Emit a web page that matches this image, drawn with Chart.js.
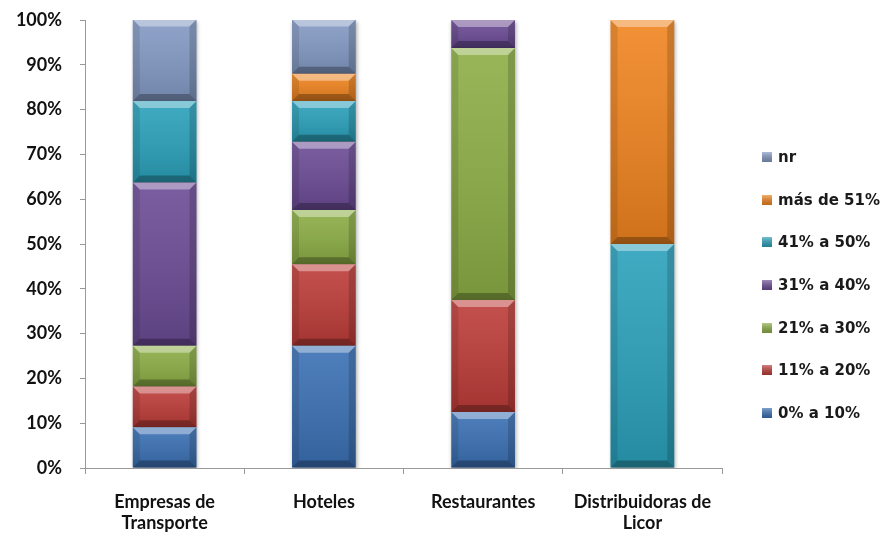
<!DOCTYPE html>
<html>
<head>
<meta charset="utf-8">
<script src="https://cdn.jsdelivr.net/npm/chart.js"></script>
<style>
  html, body { margin: 0; padding: 0; background: #fff; }
  #wrap { width: 884px; height: 539px; position: relative; }
</style>
</head>
<body>
<div id="wrap"><canvas id="chart" width="884" height="539"></canvas></div>
<script>
// Categories (two-line labels where the original wraps)
const categories = [['Empresas de', 'Transporte'], 'Hoteles', 'Restaurantes', ['Distribuidoras de', 'Licor']];

// Share of answers per range, in percent of each category
const range0to10 = [9.1, 27.3, 12.5, 0];
const range11to20 = [9.1, 18.2, 25.0, 0];
const range21to30 = [9.1, 12.1, 56.25, 0];
const range31to40 = [36.4, 15.2, 6.25, 0];
const range41to50 = [18.2, 9.1, 0, 50];
const over51 = [0, 6.1, 0, 50];
const noAnswer = [18.2, 12.1, 0, 0];

const seriesNames = ['0% a 10%', '11% a 20%', '21% a 30%', '31% a 40%', '41% a 50%', 'más de 51%', 'nr'];
const seriesValues = [range0to10, range11to20, range21to30, range31to40, range41to50, over51, noAnswer];
const seriesColors = ['#3a70b4', '#bd3c38', '#8cae45', '#6b4b95', '#2aa1bb', '#f0841f', '#8399c4'];

const yTicks = [0, 10, 20, 30, 40, 50, 60, 70, 80, 90, 100];

const FONT = 'Lato, "Open Sans", sans-serif';

// Bevel + soft shading on each bar segment, drawn over the plain fill
const bevelPlugin = {
  id: 'bevel',
  beforeDatasetDraw(chart) {
    const ctx = chart.ctx;
    ctx.save();
    ctx.shadowColor = 'rgba(0,0,0,0.35)';
    ctx.shadowBlur = 4;
    ctx.shadowOffsetX = 1;
    ctx.shadowOffsetY = 2;
  },
  afterDatasetDraw(chart) {
    chart.ctx.restore();
  },
  afterDatasetsDraw(chart) {
    const ctx = chart.ctx;
    chart.data.datasets.forEach((ds, i) => {
      const meta = chart.getDatasetMeta(i);
      meta.data.forEach(bar => {
        const p = bar.getProps(['x', 'y', 'base', 'width'], true);
        const l = p.x - p.width / 2, r = p.x + p.width / 2;
        const t = Math.min(p.y, p.base), b = Math.max(p.y, p.base);
        const h = b - t;
        if (h < 1) return;
        const e = Math.min(7, h / 3);
        ctx.save();
        // face gradient
        const g = ctx.createLinearGradient(0, t, 0, b);
        g.addColorStop(0, 'rgba(255,255,255,0.10)');
        g.addColorStop(1, 'rgba(0,0,0,0.14)');
        ctx.fillStyle = g;
        ctx.fillRect(l, t, r - l, h);
        // top edge highlight
        ctx.fillStyle = 'rgba(255,255,255,0.38)';
        ctx.beginPath();
        ctx.moveTo(l, t); ctx.lineTo(r, t); ctx.lineTo(r - e, t + e); ctx.lineTo(l + e, t + e);
        ctx.closePath(); ctx.fill();
        // bottom edge shade
        ctx.fillStyle = 'rgba(0,0,0,0.28)';
        ctx.beginPath();
        ctx.moveTo(l, b); ctx.lineTo(r, b); ctx.lineTo(r - e, b - e); ctx.lineTo(l + e, b - e);
        ctx.closePath(); ctx.fill();
        // side edges
        ctx.fillStyle = 'rgba(0,0,0,0.10)';
        ctx.beginPath();
        ctx.moveTo(l, t); ctx.lineTo(l + e, t + e); ctx.lineTo(l + e, b - e); ctx.lineTo(l, b);
        ctx.closePath(); ctx.fill();
        ctx.fillStyle = 'rgba(0,0,0,0.16)';
        ctx.beginPath();
        ctx.moveTo(r, t); ctx.lineTo(r - e, t + e); ctx.lineTo(r - e, b - e); ctx.lineTo(r, b);
        ctx.closePath(); ctx.fill();
        ctx.restore();
      });
    });
  }
};

// Legend on the right, last series on top
const sideLegend = {
  id: 'sideLegend',
  afterDraw(chart) {
    const ctx = chart.ctx;
    const items = chart.data.datasets.map(d => ({ label: d.label, color: d.backgroundColor })).reverse();
    ctx.save();
    ctx.font = 'bold 15px "DejaVu Sans", sans-serif';
    ctx.textBaseline = 'middle';
    ctx.textAlign = 'left';
    items.forEach((it, k) => {
      const cy = 157 + k * 42.67;
      const bx = 762, by = Math.round(cy - 5);
      const g = ctx.createLinearGradient(0, by, 0, by + 10);
      g.addColorStop(0, 'rgba(255,255,255,0.35)');
      g.addColorStop(1, 'rgba(0,0,0,0.2)');
      ctx.fillStyle = it.color;
      ctx.fillRect(bx, by, 10, 10);
      ctx.fillStyle = g;
      ctx.fillRect(bx, by, 10, 10);
      ctx.fillStyle = '#1a1a1a';
      ctx.fillText(it.label, 778, cy + 1);
    });
    ctx.restore();
  }
};

new Chart(document.getElementById('chart'), {
  type: 'bar',
  data: {
    labels: categories,
    datasets: seriesNames.map((name, i) => ({
      label: name,
      data: seriesValues[i],
      backgroundColor: seriesColors[i],
      borderWidth: 0,
      barPercentage: 0.8,
      categoryPercentage: 0.5
    }))
  },
  options: {
    responsive: false,
    animation: false,
    layout: { padding: { top: 20, right: 162, left: 0, bottom: 0 } },
    plugins: { legend: { display: false }, tooltip: { enabled: false } },
    scales: {
      x: {
        stacked: true,
        grid: { display: true, drawOnChartArea: false, tickLength: 6, color: '#999', offset: true },
        border: { color: '#999' },
        ticks: { color: '#111', font: { family: FONT, size: 18, weight: 'bold', lineHeight: 1.15 }, padding: 18, maxRotation: 0 },
        afterFit(s) { s.height = 71; s.paddingLeft = 0; s.paddingRight = 0; }
      },
      y: {
        stacked: true,
        min: 0,
        max: 100,
        afterBuildTicks(s) { s.ticks = yTicks.map(v => ({ value: v })); },
        grid: { display: true, drawOnChartArea: false, tickLength: 5, color: '#999' },
        border: { color: '#999' },
        ticks: { color: '#111', font: { family: FONT, size: 18, weight: 'bold' }, padding: 18, callback: v => v + '%' },
        afterFit(s) { s.width = 85; s.paddingTop = 0; s.paddingBottom = 0; }
      }
    }
  },
  plugins: [bevelPlugin, sideLegend]
});
</script>
</body>
</html>
